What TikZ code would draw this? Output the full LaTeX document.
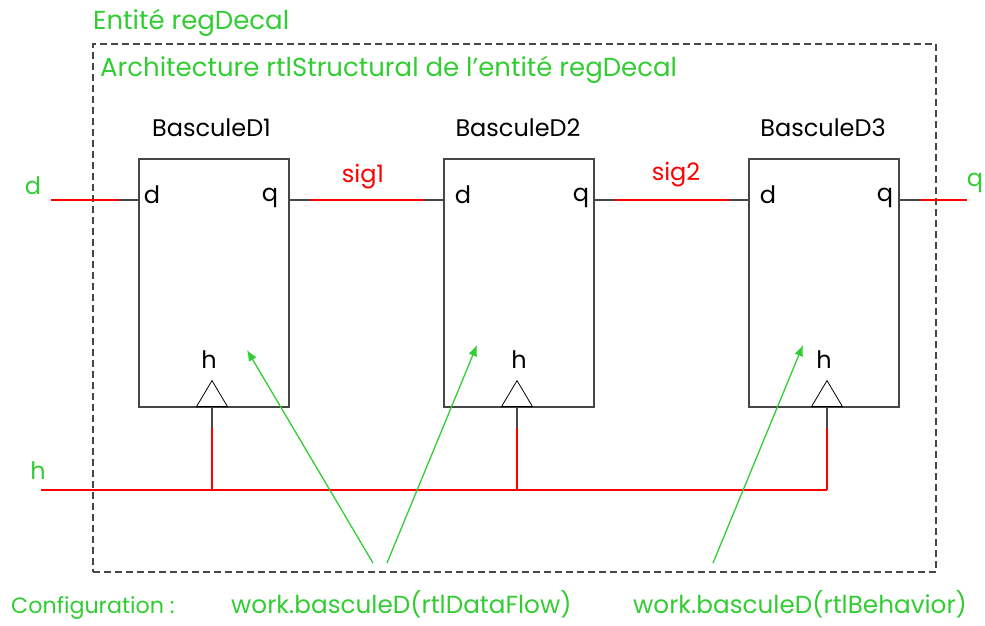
\documentclass[tikz,border=0pt]{standalone}
\usepackage{fontspec}
\setmainfont{Poppins}
\definecolor{labelGreen}{RGB}{50, 205, 50}
\definecolor{wireGray}{RGB}{70, 70, 70}
\usetikzlibrary{
    arrows.meta,
    shapes.geometric
}
\begin{document}
\begin{tikzpicture}[
        x=1pt, y=-1pt,
        every node/.style={font=\fontsize{24}{28}\selectfont, inner sep=0pt},
        bascule/.style={rectangle, draw=wireGray, line width=1.1pt, minimum width=150pt, minimum height=248pt},
        clockmark/.style={isosceles triangle, isosceles triangle stretches, shape border rotate=90, draw=black, line width=0.8pt, minimum width=31pt, minimum height=26pt, anchor=lower side},
        greenlabel/.style={text=labelGreen},
        redlabel/.style={text=red},
        titlelabel/.style={text=labelGreen, anchor=base west, font=\fontsize{26}{28}\selectfont},
        configlabel/.style={text=labelGreen, anchor=base west, font=\fontsize{24.7}{28}\selectfont},
        redwire/.style={draw=red, line width=2.6pt},
        graywire/.style={draw=wireGray, line width=1.1pt},
        configarrow/.style={draw=labelGreen, line width=1.3pt, -{Latex[length=11pt,width=9pt]}},
    ]
    \useasboundingbox (0,0) rectangle (985,625);

    % frame and titles
    \node[rectangle, draw=wireGray, dash pattern=on 7pt off 4pt, line width=1.1pt, minimum width=843pt, minimum height=528pt] (frame) at (514.5,308) {};
    \node[titlelabel] (entityTitle) at (93,29) {Entité regDecal};
    \node[titlelabel] (archTitle) at (100,76) {Architecture rtlStructural de l’entité regDecal};

    % the three flip-flops
    \foreach \n/\x/\clk/\ttl/\pd/\pq/\ph in {1/214/212/211.5/152/270/209, 2/519/517/518/463/581/519, 3/824/827/823/768/885/824} {
        \node[bascule] (bascule\n) at (\x,283) {};
        \node (title\n) at (\ttl,128) {BasculeD\n};
        \node (portd\n) at (\pd,195) {d};
        \node (portq\n) at (\pq,198) {q};
        \node (porth\n) at (\ph,360) {h};
        \node[clockmark] (clock\n) at (\clk,407) {};
        \coordinate (in\n) at (\x-95,200);
        \coordinate (out\n) at (\x+96,200);
        \coordinate (clockfoot\n) at (\clk,428);
        \coordinate (clockbus\n) at (\clk,490);
        \draw[graywire] (bascule\n.west |- in\n) -- (in\n);
        \draw[graywire] (bascule\n.east |- out\n) -- (out\n);
        \draw[graywire] (clock\n.lower side) -- (clockfoot\n);
        \draw[redwire] (clockfoot\n) -- (clockbus\n);
    }

    % signals
    \coordinate (dstart) at (51,200);
    \coordinate (qend) at (967,200);
    \coordinate (hstart) at (41,490);
    \draw[redwire] (dstart) -- (in1);
    \draw[redwire] (out1) -- (in2);
    \draw[redwire] (out2) -- (in3);
    \draw[redwire] (out3) -- (qend);
    \draw[redwire] (hstart) -- (clockbus3);
    \node[greenlabel] (dlabel) at (33,186) {d};
    \node[greenlabel] (qlabel) at (975,183) {q};
    \node[greenlabel] (hlabel) at (38,471) {h};
    \node[redlabel] (sig1) at (363,177) {sig1};
    \node[redlabel] (sig2) at (676,175) {sig2};

    % configuration
    \node[configlabel, font=\fontsize{22.2}{28}\selectfont] (configTitle) at (11,613) {Configuration :};
    \node[configlabel] (configFlow) at (231,613) {work.basculeD(rtlDataFlow)};
    \node[configlabel] (configBehav) at (633,613) {work.basculeD(rtlBehavior)};
    \coordinate (flowA) at (373,563);
    \coordinate (flowB) at (387,563);
    \coordinate (behavA) at (713,563);
    \coordinate (target1) at (247,350);
    \coordinate (target2) at (477,345);
    \coordinate (target3) at (803,345);
    \draw[configarrow] (flowA) -- (target1);
    \draw[configarrow] (flowB) -- (target2);
    \draw[configarrow] (behavA) -- (target3);
\end{tikzpicture}
\end{document}
